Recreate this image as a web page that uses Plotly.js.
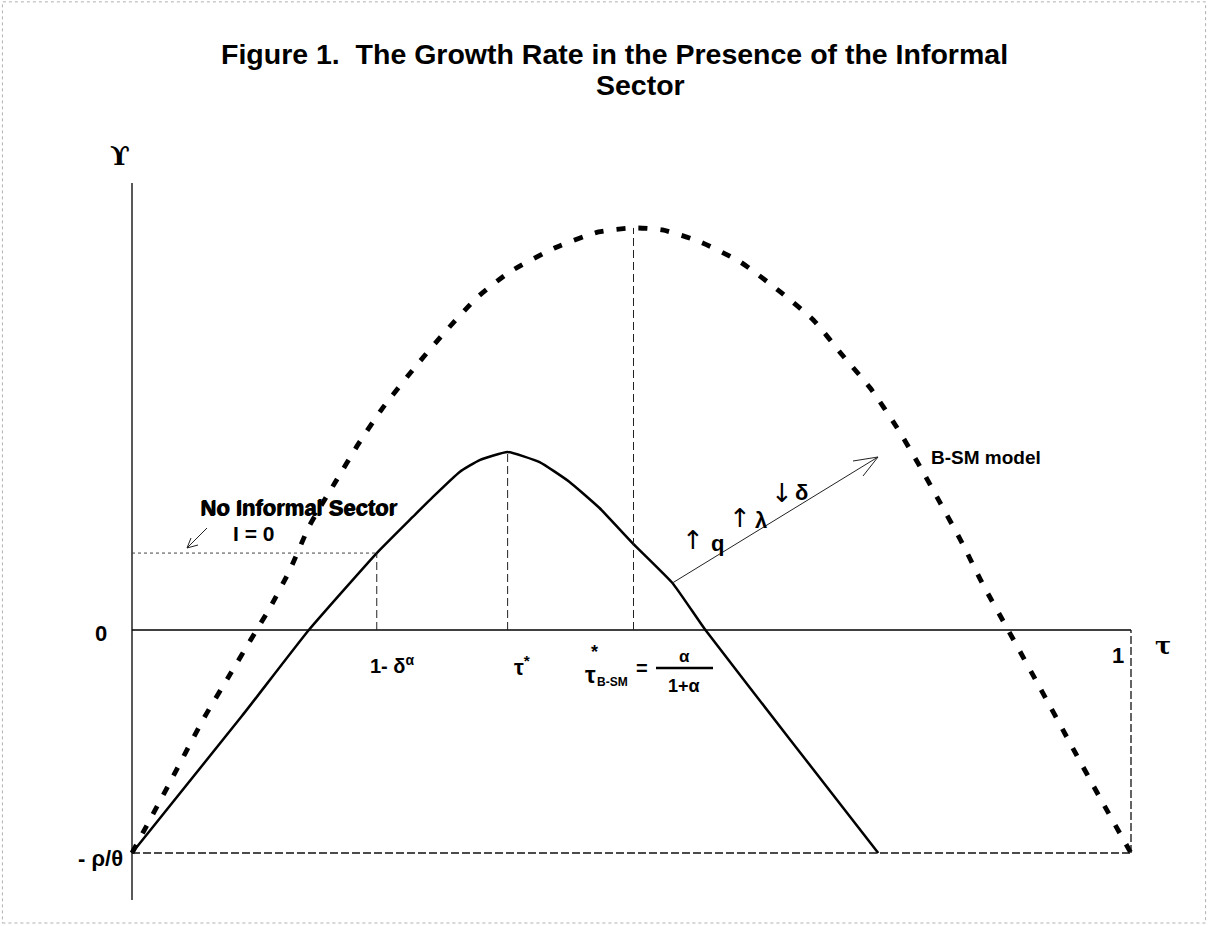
<!DOCTYPE html>
<html>
<head>
<meta charset="utf-8">
<script src="https://cdn.plot.ly/plotly-3.0.1.min.js"></script>
<style>html,body{margin:0;padding:0;background:#fff;}#chart{width:1208px;height:926px;}</style>
</head>
<body>
<div id="chart"></div>
<script>
// ---- data (tau on [0,1], growth in units of rho/theta) ----
const tauBSM    = [0, 0.036, 0.072, 0.096, 0.123, 0.138, 0.158, 0.178, 0.203, 0.226, 0.251, 0.285, 0.315, 0.346, 0.378, 0.423, 0.467, 0.502, 0.531, 0.569, 0.609, 0.649, 0.682, 0.711, 0.739, 0.766, 0.789, 0.809, 0.831, 0.851, 0.877, 0.909, 0.939, 0.969, 1.0];
const growthBSM = [-1, -0.70, -0.395, -0.215, -0.013, 0.099, 0.269, 0.471, 0.659, 0.830, 0.996, 1.188, 1.345, 1.493, 1.605, 1.713, 1.785, 1.803, 1.794, 1.740, 1.650, 1.516, 1.390, 1.233, 1.085, 0.906, 0.731, 0.570, 0.390, 0.211, 0, -0.260, -0.507, -0.753, -1];
const tauInf    = [0, 0.110, 0.177, 0.245, 0.281, 0.301, 0.328, 0.348, 0.376, 0.408, 0.438, 0.468, 0.501, 0.541, 0.574, 0.659, 0.747];
const growthInf = [-1, -0.386, 0, 0.345, 0.507, 0.596, 0.709, 0.762, 0.798, 0.753, 0.664, 0.547, 0.390, 0.211, 0, -0.493, -1];
const tauOneMinusDelta = 0.245;   // 1 - delta^alpha
const tauArrowStart = 0.541;      // shift arrow starts on the informal curve
const yMin = -1;                  // -rho/theta
const xTickLabels = ["1- δ<sup>α</sup>", "τ<sup>*</sup>", "1"];

// ---- helpers ----
const PX0 = 132, PXU = 999, PY0 = 630, PYU = 223;
const X = px => (px - PX0) / PXU;
const Y = py => (PY0 - py) / PYU;
function interp(xs, ys, x){
  for (let i = 0; i < xs.length - 1; i++){
    if (x >= xs[i] && x <= xs[i+1]){
      const t = (x - xs[i]) / (xs[i+1] - xs[i]);
      return ys[i] + t * (ys[i+1] - ys[i]);
    }
  }
  return ys[ys.length-1];
}
function argmax(ys){ let k = 0; ys.forEach((v,i)=>{ if (v > ys[k]) k = i; }); return k; }

const kInf = argmax(growthInf), kBSM = argmax(growthBSM);
const tauStar = tauInf[kInf], yStar = growthInf[kInf];
const tauBS = tauBSM[kBSM], yBS = growthBSM[kBSM];
const yDelta = interp(tauInf, growthInf, tauOneMinusDelta);
const yArrowStart = interp(tauInf, growthInf, tauArrowStart);

const traces = [
  {x: tauBSM, y: growthBSM, mode: 'lines', line: {color: '#000', width: 4.8, dash: '9px,13px', shape: 'spline', smoothing: 0.6}, hoverinfo: 'skip'},
  {x: tauInf, y: growthInf, mode: 'lines', line: {color: '#000', width: 2.5, shape: 'spline', smoothing: 0.4}, hoverinfo: 'skip'}
];

const thin = {color: '#222', width: 1};
const shapes = [
  // axes
  {type: 'line', x0: 0, x1: 0, y0: Y(900), y1: Y(183), line: {color: '#000', width: 1.3}},
  {type: 'line', x0: 0, x1: 1, y0: 0, y1: 0, line: {color: '#000', width: 1.3}},
  // bottom dashed and right dashed
  {type: 'line', x0: 0, x1: 1, y0: yMin, y1: yMin, line: {color: '#111', width: 1.3, dash: '8px,3px'}},
  {type: 'line', x0: 1, x1: 1, y0: yMin, y1: 0, line: {color: '#111', width: 1.3, dash: '8px,3px'}},
  // verticals
  {type: 'line', x0: tauOneMinusDelta, x1: tauOneMinusDelta, y0: 0, y1: yDelta, line: {color: '#222', width: 1, dash: '8px,4px'}},
  {type: 'line', x0: tauStar, x1: tauStar, y0: 0, y1: yStar, line: {color: '#222', width: 1, dash: '8px,4px'}},
  {type: 'line', x0: tauBS, x1: tauBS, y0: 0, y1: yBS, line: {color: '#222', width: 1, dash: '8px,4px'}},
  // dotted horizontal for no informal sector
  {type: 'line', x0: 0, x1: tauOneMinusDelta, y0: yDelta, y1: yDelta, line: {color: '#444', width: 1, dash: 'dot'}},
  // shift arrow
  {type: 'line', x0: tauArrowStart, y0: yArrowStart, x1: X(878), y1: Y(457), line: thin},
  {type: 'line', x0: X(878), y0: Y(457), x1: X(853), y1: Y(461), line: thin},
  {type: 'line', x0: X(878), y0: Y(457), x1: X(863), y1: Y(476), line: thin},
  // small arrow
  {type: 'line', x0: X(207), y0: Y(528), x1: X(187), y1: Y(548), line: thin},
  {type: 'line', x0: X(187), y0: Y(548), x1: X(191), y1: Y(538), line: thin},
  {type: 'line', x0: X(187), y0: Y(548), x1: X(198), y1: Y(545), line: thin},
  // fraction bar
  {type: 'line', x0: X(656), x1: X(713), y0: Y(668), y1: Y(668), line: {color: '#000', width: 2.5}},
  // outer border
  {type: 'rect', xref: 'paper', yref: 'paper', x0: 0.002, x1: 0.998, y0: 1 - 923/926, y1: 0.998, line: {color: '#b0b0b0', width: 1, dash: 'dot'}}
];

const F = 'Liberation Sans, Arial, sans-serif';
function lab(px, py, text, size, opts){
  return Object.assign({x: X(px), y: Y(py), text: text, showarrow: false, font: {family: F, size: size, color: '#000'}, xanchor: 'center', yanchor: 'middle'}, opts || {});
}
const annotations = [
  {xref: 'paper', yref: 'paper', x: 614/1208, y: 1 - 54/926, text: '<b>Figure 1.\u00a0 The Growth Rate in the Presence of the Informal</b>', showarrow: false, font: {family: F, size: 28.5, color: '#000'}, xanchor: 'center', yanchor: 'middle'},
  {xref: 'paper', yref: 'paper', x: 640/1208, y: 1 - 85/926, text: '<b>Sector</b>', showarrow: false, font: {family: F, size: 28.5, color: '#000'}, xanchor: 'center', yanchor: 'middle'},
  lab(120, 156, '<b>ϒ</b>', 26, {font: {family: 'DejaVu Serif, serif', size: 26, color: '#000'}}),
  lab(101, 633, '<b>0</b>', 22),
  lab(100, 858, '<b>- ρ/θ</b>', 22),
  lab(1118, 655, '<b>1</b>', 22),
  lab(1163, 645, '<b>τ</b>', 24, {font: {family: 'DejaVu Serif, serif', size: 24, color: '#000'}}),
  lab(392, 664, '<b>' + xTickLabels[0] + '</b>', 20),
  lab(522, 666, '<b>' + xTickLabels[1] + '</b>', 22),
  // tau_B-SM label
  lab(590, 674, '<b>τ</b>', 24),
  lab(594, 652, '<b>*</b>', 18),
  lab(612, 682, '<b>B-SM</b>', 12),
  lab(642, 668, '<b>=</b>', 20),
  lab(684, 656, '<b>α</b>', 17),
  lab(684, 686, '<b>1+α</b>', 18),
  // shift labels
  lab(693, 540, '↑', 26, {font: {family: 'DejaVu Sans, sans-serif', size: 26, color: '#000'}}),
  lab(717, 543, '<b>q</b>', 22),
  lab(740, 518, '↑', 26, {font: {family: 'DejaVu Sans, sans-serif', size: 26, color: '#000'}}),
  lab(761, 520, '<b>λ</b>', 22),
  lab(782, 493, '↓', 26, {font: {family: 'DejaVu Sans, sans-serif', size: 26, color: '#000'}}),
  lab(801, 492, '<b>δ</b>', 22),
  lab(986, 457, '<b>B-SM model</b>', 19),
  // no informal sector
  lab(298, 508, '<b>No Informal Sector</b>', 22),
  lab(299.5, 507, '<b>No Informal Sector</b>', 22),
  lab(253, 533, '<b>I = 0</b>', 21)
];

const layout = {
  width: 1208, height: 926,
  margin: {l: 0, r: 0, t: 0, b: 0},
  paper_bgcolor: '#fff', plot_bgcolor: '#fff',
  showlegend: false,
  xaxis: {range: [-PX0/PXU, (1208-PX0)/PXU], visible: false, fixedrange: true},
  yaxis: {range: [-(926-PY0)/PYU, PY0/PYU], visible: false, fixedrange: true},
  shapes: shapes,
  annotations: annotations
};
Plotly.newPlot('chart', traces, layout, {staticPlot: true, displayModeBar: false});
</script>
</body>
</html>
